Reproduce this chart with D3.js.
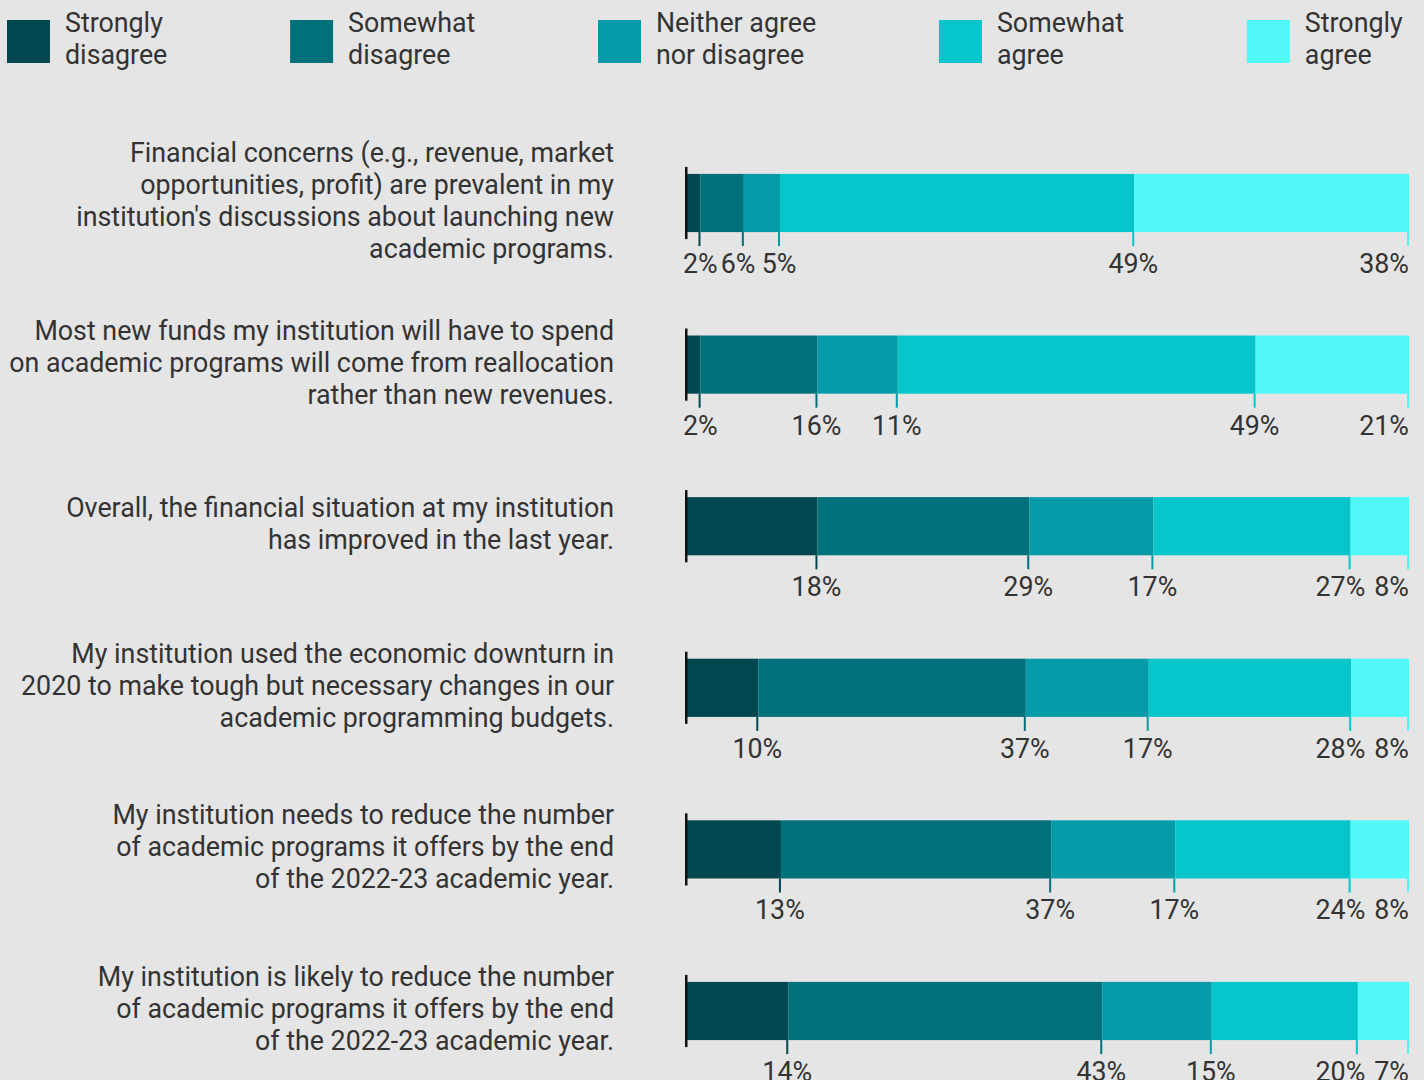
<!DOCTYPE html>
<html>
<head>
<meta charset="utf-8">
<script src="https://cdn.jsdelivr.net/npm/d3@7"></script>
<style>
  html, body { margin: 0; padding: 0; background: #e5e5e5; }
  svg { display: block; font-family: Roboto, "Noto Sans", sans-serif; }
</style>
</head>
<body>
<div id="chart"></div>
<script>
// categories (one line break per visual line)
const statements = [
  "Financial concerns (e.g., revenue, market\nopportunities, profit) are prevalent in my\ninstitution's discussions about launching new\nacademic programs.",
  "Most new funds my institution will have to spend\non academic programs will come from reallocation\nrather than new revenues.",
  "Overall, the financial situation at my institution\nhas improved in the last year.",
  "My institution used the economic downturn in\n2020 to make tough but necessary changes in our\nacademic programming budgets.",
  "My institution needs to reduce the number\nof academic programs it offers by the end\nof the 2022-23 academic year.",
  "My institution is likely to reduce the number\nof academic programs it offers by the end\nof the 2022-23 academic year."
];

const responses = ["Strongly\ndisagree", "Somewhat\ndisagree", "Neither agree\nnor disagree", "Somewhat\nagree", "Strongly\nagree"];
const colors = ["#00474f", "#00707a", "#049ca9", "#06c6cc", "#50f8f8"];

// percentages per response, one value per statement
const stronglyDisagree = [2, 2, 18, 10, 13, 14];
const somewhatDisagree = [6, 16, 29, 37, 37, 43];
const neither          = [5, 11, 17, 17, 17, 15];
const somewhatAgree    = [49, 49, 27, 28, 24, 20];
const stronglyAgree    = [38, 21, 8, 8, 8, 7];

const series = [stronglyDisagree, somewhatDisagree, neither, somewhatAgree, stronglyAgree];

const width = 1424, height = 1080;
const textColor = "#333333";
const fontSize = 26.8, lineH = 32;

const svg = d3.select("#chart").append("svg")
  .attr("width", width)
  .attr("height", height);

// rows: each statement, values normalized to its total
const rows = statements.map((s, i) => {
  const vals = series.map(arr => arr[i]);
  const total = d3.sum(vals);
  let acc = 0;
  const segs = vals.map((v, k) => {
    const x0 = acc / total;
    acc += v;
    return { k: k, value: v, x0: x0, x1: acc / total };
  });
  return { label: s, segs: segs };
});

const x = d3.scaleLinear().domain([0, 1]).range([686, 1409]);
const y = d3.scaleBand()
  .domain(statements)
  .range([122.2, 1091.8])
  .paddingInner(0.64)
  .paddingOuter(0.32);

// legend, spread across the top
const legend = svg.append("g").attr("class", "legend");
const items = legend.selectAll("g.item")
  .data(responses)
  .enter().append("g")
  .attr("class", "item");

items.append("rect")
  .attr("width", 43).attr("height", 43)
  .attr("y", 20)
  .attr("fill", (d, i) => colors[i]);

items.append("text")
  .attr("x", 58)
  .attr("fill", textColor)
  .style("font-size", fontSize + "px")
  .selectAll("tspan")
  .data(d => d.split("\n"))
  .enter().append("tspan")
  .attr("x", 58)
  .attr("y", (d, i) => 32 + i * lineH)
  .text(d => d);

const itemW = [];
items.each(function () { itemW.push(this.getBBox().width); });
const gapL = (1403 - 7 - d3.sum(itemW)) / (responses.length - 1);
let lx = 7;
items.attr("transform", (d, i) => {
  const t = `translate(${lx},0)`;
  lx += itemW[i] + gapL;
  return t;
});

// statement labels
const rowG = svg.selectAll("g.row")
  .data(rows)
  .enter().append("g")
  .attr("class", "row")
  .attr("transform", d => `translate(0,${y(d.label)})`);

const bw = y.bandwidth();

rowG.append("text")
  .attr("text-anchor", "end")
  .attr("fill", textColor)
  .style("font-size", fontSize + "px")
  .selectAll("tspan")
  .data(d => {
    const lines = d.label.split("\n");
    return lines.map((l, i) => ({ l: l, i: i, n: lines.length }));
  })
  .enter().append("tspan")
  .attr("x", 614)
  .attr("y", d => bw / 2 + (d.i - (d.n - 1) / 2) * lineH + 7)
  .text(d => d.l);

// bar segments
rowG.selectAll("rect.seg")
  .data(d => d.segs)
  .enter().append("rect")
  .attr("class", "seg")
  .attr("x", d => x(d.x0))
  .attr("width", d => x(d.x1) - x(d.x0))
  .attr("height", bw)
  .attr("fill", d => colors[d.k]);

// ticks at segment ends
rowG.selectAll("rect.tick")
  .data(d => d.segs)
  .enter().append("rect")
  .attr("class", "tick")
  .attr("x", d => x(d.x1) - 2)
  .attr("y", bw)
  .attr("width", 2)
  .attr("height", 14)
  .attr("fill", d => colors[d.k]);

// baseline axis
rowG.append("rect")
  .attr("x", x(0) - 1)
  .attr("y", -7)
  .attr("width", 2.5)
  .attr("height", bw + 14)
  .attr("fill", "#111");

// value labels, centered on ticks, pushed apart right to left
rowG.each(function (d) {
  const g = d3.select(this);
  const labels = g.selectAll("text.val")
    .data(d.segs)
    .enter().append("text")
    .attr("class", "val")
    .attr("y", bw + 41)
    .attr("fill", textColor)
    .style("font-size", fontSize + "px")
    .text(s => s.value + "%");

  const w = [];
  labels.each(function () { w.push(this.getComputedTextLength()); });
  const left = d.segs.map((s, i) => x(s.x1) - 1 - w[i] / 2);
  const maxRight = x(1);
  for (let i = left.length - 1; i >= 0; i--) {
    const limit = i === left.length - 1 ? maxRight : left[i + 1] - 9;
    if (left[i] + w[i] > limit) left[i] = limit - w[i];
  }
  left[0] = Math.max(left[0], x(0) - 3);
  for (let i = 1; i < left.length; i++) {
    left[i] = Math.max(left[i], left[i - 1] + w[i - 1] + 3);
  }
  labels.attr("x", (s, i) => left[i]);
});
</script>
</body>
</html>
